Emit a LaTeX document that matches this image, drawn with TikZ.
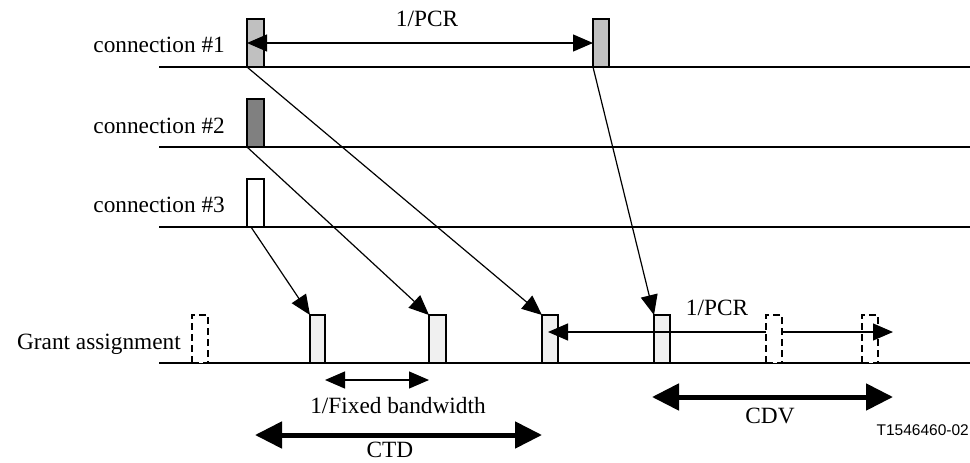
\documentclass[tikz,border=0pt]{standalone}
\usepackage{fontspec}
\setmainfont{Liberation Serif}
\setsansfont{Liberation Sans}
\usetikzlibrary{arrows.meta}
\definecolor{cellA}{HTML}{C0C0C0}
\definecolor{cellB}{HTML}{808080}
\definecolor{cellG}{HTML}{F0F0F0}
\tikzset{
  lbl/.style={font=\fontsize{23.3}{26}\selectfont, inner sep=0pt},
  cell/.style={draw, line width=1.2pt, minimum width=16pt, minimum height=48pt, inner sep=0pt, outer sep=0pt, anchor=south west},
  dcell/.style={cell, fill=white, dash pattern=on 7pt off 4pt, line width=1.8pt},
  axis/.style={line width=1.2pt},
  thin arrow/.style={line width=1.2pt, -{Triangle[length=20pt,width=17pt]}},
  thin both/.style={line width=1.2pt, {Triangle[length=20pt,width=17pt]}-{Triangle[length=20pt,width=17pt]}},
  thick both/.style={line width=5pt, {Triangle[length=27pt,width=26pt]}-{Triangle[length=27pt,width=26pt]}}
}
\begin{document}
\begin{tikzpicture}[x=1pt,y=-1pt]
\useasboundingbox (0,0) rectangle (970,463);
% time lines
\coordinate (l1a) at (159,67);  \coordinate (l1b) at (970,67);
\coordinate (l2a) at (159,147); \coordinate (l2b) at (970,147);
\coordinate (l3a) at (159,227); \coordinate (l3b) at (970,227);
\coordinate (l4a) at (159,363); \coordinate (l4b) at (970,363);
\draw[axis] (l1a) -- (l1b);
\draw[axis] (l2a) -- (l2b);
\draw[axis] (l3a) -- (l3b);
\draw[axis] (l4a) -- (l4b);
% labels
\node[lbl, anchor=base east] (t1) at (225,52) {connection \#1};
\node[lbl, anchor=base east] (t2) at (225,133) {connection \#2};
\node[lbl, anchor=base east] (t3) at (225,212) {connection \#3};
\node[lbl, anchor=base east] (t4) at (181,349) {Grant assignment};
% connection cells
\node[cell, fill=cellA, minimum width=17pt] (c1a) at (247,67) {};
\node[cell, fill=cellA] (c1b) at (593,67) {};
\node[cell, fill=cellB, minimum width=17pt] (c2) at (247,147) {};
\node[cell, fill=white, minimum width=17pt] (c3) at (247,227) {};
% grant cells
\node[cell, fill=cellG, minimum width=15pt] (g1) at (310,363) {};
\node[cell, fill=cellG, minimum width=17pt] (g2) at (429,363) {};
\node[cell, fill=cellG] (g3) at (542,363) {};
\node[cell, fill=cellG] (g4) at (654,363) {};
% 1/PCR top
\draw[thin both] (c1a.west) -- (c1b.west);
\node[lbl, anchor=base] (pcr1) at (427,27) {1/PCR};
% diagonal arrows
\draw[thin arrow] (c1a.south west) -- (g3.north west);
\draw[thin arrow] (c1b.south west) -- (g4.north west);
\draw[thin arrow] (c2.south west) -- (g2.north west);
\draw[thin arrow] ([xshift=4pt]c3.south west) -- (g1.north west);
% 1/PCR bottom
\coordinate (pL) at (548,332);
\coordinate (pM) at (774,332);
\coordinate (pR) at (893,332);
\draw[line width=1.2pt, {Triangle[length=20pt,width=17pt]}-] (pL) -- (pM);
\node[dcell] (d0) at (192,363) {};
\node[dcell] (d1) at (766,363) {};
\node[dcell] (d2) at (862,363) {};
\draw[thin arrow] (d1.east |- pR) -- (pR);
\node[lbl, anchor=base] (pcr2) at (717,315) {1/PCR};
% fixed bandwidth
\draw[thin both] (g1.south east |- 0,380) -- (g2.south west |- 0,380);
\node[lbl, anchor=base] (fb) at (398,413) {1/Fixed bandwidth};
% CDV
\coordinate (cdvL) at (652,397);
\coordinate (cdvR) at (893,397);
\draw[thick both] (cdvL) -- (cdvR);
\node[lbl, anchor=base] (cdv) at (770,423) {CDV};
% CTD
\coordinate (ctdL) at (255,435);
\coordinate (ctdR) at (542,435);
\draw[thick both] (ctdL) -- (ctdR);
\node[lbl, anchor=base] (ctd) at (390,457) {CTD};
% reference
\node[anchor=base east, inner sep=0pt, font=\sffamily\fontsize{15.5}{18}\selectfont] (ref) at (969,435) {T1546460-02};
\end{tikzpicture}
\end{document}
